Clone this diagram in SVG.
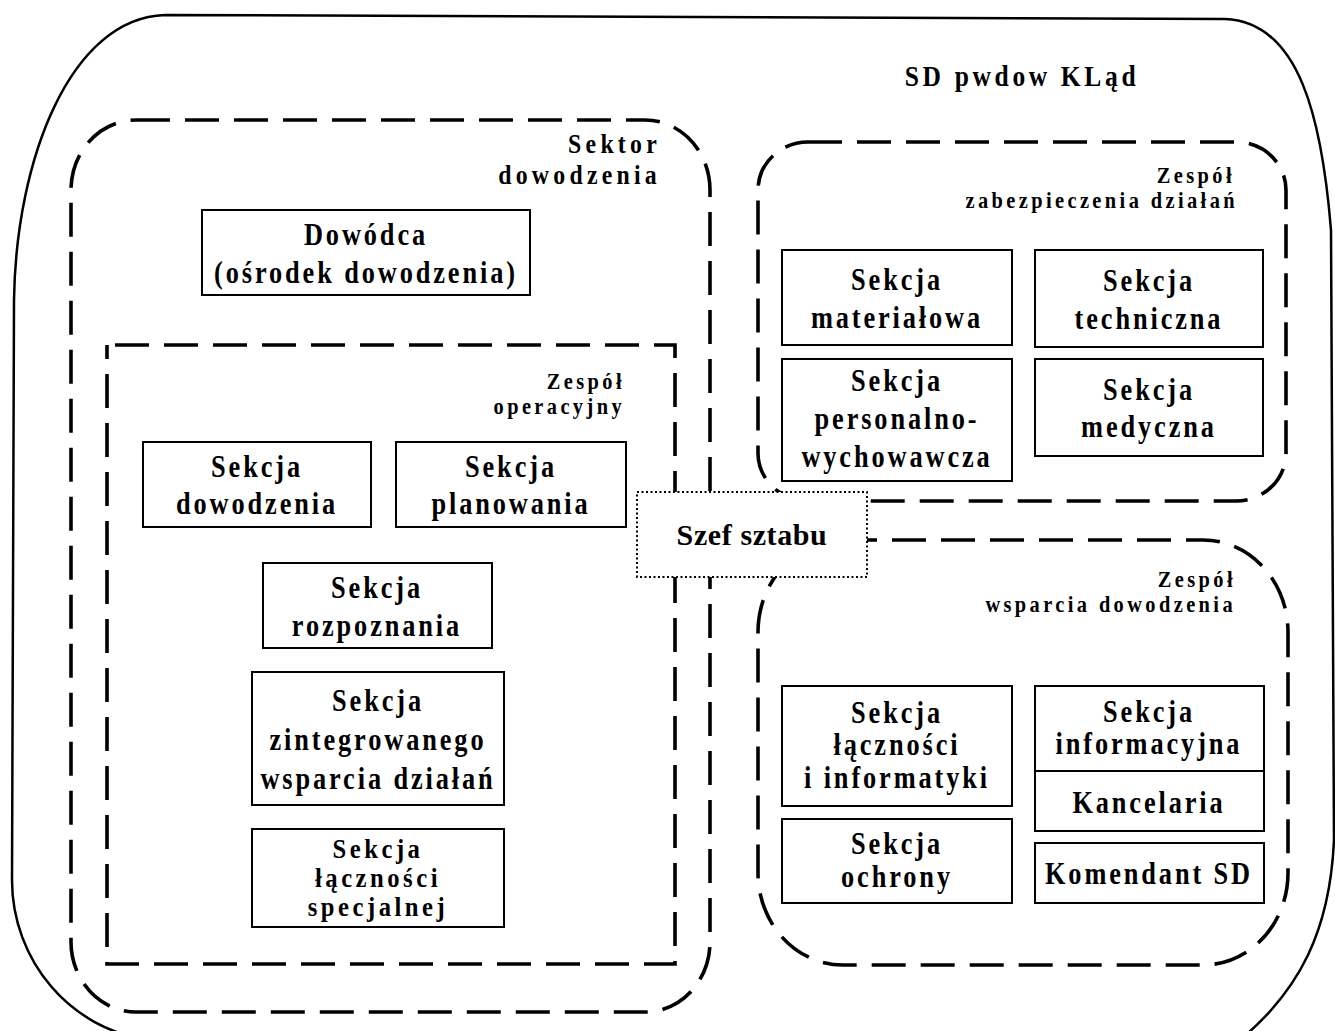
<svg xmlns="http://www.w3.org/2000/svg" width="1335" height="1031" viewBox="0 0 1335 1031">
<style>
text{font-family:"Liberation Serif","Times New Roman",serif;font-weight:bold;fill:#000;transform-box:fill-box}
.t{font-size:31px;letter-spacing:3.4px;text-anchor:middle;transform-origin:center;transform:scaleX(0.85)}
.ts{font-size:28px;letter-spacing:4px;text-anchor:middle;transform-origin:center;transform:scaleX(0.88)}
.lbl{font-size:24px;letter-spacing:4px;text-anchor:end;transform-origin:right center;transform:scaleX(0.85)}
.lbl2{font-size:28px;letter-spacing:5px;text-anchor:end;transform-origin:right center;transform:scaleX(0.85)}
.ttl{font-size:30px;letter-spacing:4.3px;text-anchor:middle;transform-origin:center;transform:scaleX(0.85)}
.szef{font-size:30px;letter-spacing:0.6px;text-anchor:middle}
.box{fill:#fff;stroke:#000;stroke-width:2}
.dash{fill:none;stroke:#000;stroke-width:3.6;stroke-dasharray:34 15}
.outer{fill:none;stroke:#000;stroke-width:2.5}
.dot{fill:#fff;stroke:#000;stroke-width:2;stroke-dasharray:2 2.5}
</style>
<g id="sd-pwdow">
<path class="outer" d="M165,15 L1225,19 C1300,22 1322,120 1331,230 L1334,840 C1330,930 1300,990 1240,1040 L150,1040 C70,1030 12,960 12,880 L14,300 C16,160 70,18 165,15 Z"/>
<text class="ttl" x="1022" y="86">SD pwdow KLąd</text>
</g>
<g id="sektor-dowodzenia">
<rect class="dash" x="71" y="120" width="639" height="892" rx="65" ry="70"/>
<text class="lbl2" x="661" y="153">Sektor</text>
<text class="lbl2" x="661" y="184">dowodzenia</text>
</g>
<g id="zespol-operacyjny">
<rect class="dash" x="107" y="345" width="568" height="619" style="stroke-dashoffset:-8"/>
<text class="lbl" x="625" y="389">Zespół</text>
<text class="lbl" x="625" y="414">operacyjny</text>
</g>
<g id="zespol-zabezpieczenia">
<rect class="dash" x="758" y="142" width="528" height="359" rx="50" ry="48"/>
<text class="lbl" x="1235" y="183">Zespół</text>
<text class="lbl" x="1238" y="208">zabezpieczenia działań</text>
</g>
<g id="zespol-wsparcia">
<rect class="dash" x="758" y="540" width="530" height="425" rx="85" ry="92"/>
<text class="lbl" x="1236" y="587">Zespół</text>
<text class="lbl" x="1236" y="612">wsparcia dowodzenia</text>
</g>
<g id="dowodca">
<rect class="box" x="202" y="210" width="328" height="85"/>
<text class="t" x="366" y="245">Dowódca</text>
<text class="t" x="366" y="283">(ośrodek dowodzenia)</text>
</g>
<g id="sekcja-dowodzenia">
<rect class="box" x="143" y="442" width="228" height="85"/>
<text class="t" x="257" y="477">Sekcja</text>
<text class="t" x="257" y="514">dowodzenia</text>
</g>
<g id="sekcja-planowania">
<rect class="box" x="396" y="442" width="230" height="85"/>
<text class="t" x="511" y="477">Sekcja</text>
<text class="t" x="511" y="514">planowania</text>
</g>
<g id="sekcja-rozpoznania">
<rect class="box" x="263" y="563" width="229" height="85"/>
<text class="t" x="377" y="598">Sekcja</text>
<text class="t" x="377" y="636">rozpoznania</text>
</g>
<g id="sekcja-zintegrowanego">
<rect class="box" x="252" y="672" width="252" height="133"/>
<text class="t" x="378" y="711">Sekcja</text>
<text class="t" x="378" y="750">zintegrowanego</text>
<text class="t" x="378" y="789">wsparcia działań</text>
</g>
<g id="sekcja-lacznosci-specjalnej">
<rect class="box" x="252" y="829" width="252" height="98"/>
<text class="ts" x="378" y="858">Sekcja</text>
<text class="ts" x="378" y="887">łączności</text>
<text class="ts" x="378" y="916">specjalnej</text>
</g>
<g id="sekcja-materialowa">
<rect class="box" x="782" y="250" width="230" height="95"/>
<text class="t" x="897" y="290">Sekcja</text>
<text class="t" x="897" y="328">materiałowa</text>
</g>
<g id="sekcja-techniczna">
<rect class="box" x="1035" y="250" width="228" height="97"/>
<text class="t" x="1149" y="291">Sekcja</text>
<text class="t" x="1149" y="329">techniczna</text>
</g>
<g id="sekcja-personalno-wychowawcza">
<rect class="box" x="782" y="359" width="230" height="122"/>
<text class="t" x="897" y="391">Sekcja</text>
<text class="t" x="897" y="429">personalno-</text>
<text class="t" x="897" y="467">wychowawcza</text>
</g>
<g id="sekcja-medyczna">
<rect class="box" x="1035" y="359" width="228" height="97"/>
<text class="t" x="1149" y="400">Sekcja</text>
<text class="t" x="1149" y="437">medyczna</text>
</g>
<g id="sekcja-lacznosci-informatyki">
<rect class="box" x="782" y="686" width="230" height="120"/>
<text class="t" x="897" y="723">Sekcja</text>
<text class="t" x="897" y="755">łączności</text>
<text class="t" x="897" y="788">i informatyki</text>
</g>
<g id="sekcja-ochrony">
<rect class="box" x="782" y="819" width="230" height="84"/>
<text class="t" x="897" y="854">Sekcja</text>
<text class="t" x="897" y="887">ochrony</text>
</g>
<g id="sekcja-informacyjna">
<rect class="box" x="1035" y="686" width="229" height="85"/>
<text class="t" x="1149" y="722">Sekcja</text>
<text class="t" x="1149" y="754">informacyjna</text>
</g>
<g id="kancelaria">
<rect class="box" x="1035" y="771" width="229" height="60"/>
<text class="t" x="1149" y="813">Kancelaria</text>
</g>
<g id="komendant-sd">
<rect class="box" x="1035" y="843" width="229" height="60"/>
<text class="t" x="1149" y="884">Komendant SD</text>
</g>
<g id="szef-sztabu">
<rect class="dot" x="637" y="492" width="230" height="85"/>
<text class="szef" x="752" y="545">Szef sztabu</text>
</g>
<g id="connectors"></g>
</svg>
